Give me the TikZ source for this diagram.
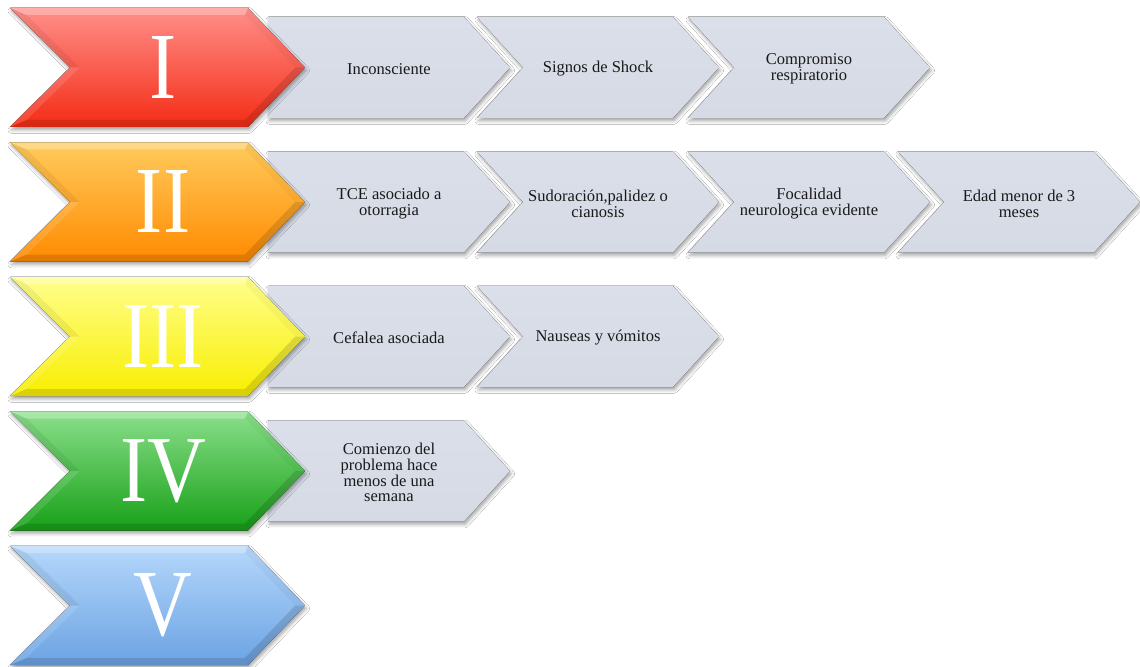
\documentclass[tikz,border=0pt]{standalone}
\usepackage{fontspec}
\setmainfont{Liberation Serif}
\newfontfamily\numfont[FakeStretch=0.86]{Liberation Serif}
\usetikzlibrary{shadows.blur}

\definecolor{boxgray}{HTML}{D5DAE5}
\definecolor{boxgrayhi}{HTML}{DADFE9}
\definecolor{redhi}{HTML}{FF8F8A}
\definecolor{redlo}{HTML}{F42C14}
\definecolor{orangehi}{HTML}{FFCB5C}
\definecolor{orangelo}{HTML}{FF8A00}
\definecolor{yellowhi}{HTML}{FFFF8C}
\definecolor{yellowlo}{HTML}{F8EE00}
\definecolor{greenhi}{HTML}{8ADF8A}
\definecolor{greenlo}{HTML}{17A017}
\definecolor{bluehi}{HTML}{B5D7FB}
\definecolor{bluelo}{HTML}{6BA3E3}

\tikzset{
  x=0.75pt, y=-0.75pt,
  softshadow/.style={blur shadow={shadow xshift=1pt, shadow yshift=-2.2pt,
      shadow blur radius=2.5pt, shadow opacity=35}},
  numeral/.style={text=white, inner sep=0pt,
      font=\numfont\fontsize{71}{71}\selectfont},
  itemtext/.style={align=center, inner sep=0pt, text=black!90,
      font=\fontsize{12.4}{11.9}\selectfont},
  lightface/.style={fill=white, fill opacity=#1},
  darkface/.style={fill=black, fill opacity=#1},
}

% coloured level chevron: #1 name, #2 top edge, #3 light tone, #4 deep tone, #5 numeral
\newcommand\levelchevron[5]{%
  \begin{scope}[shift={(10,#2)}]
    \fill[softshadow, top color=#3, bottom color=#4]
      (0,0) -- (238,0) -- (295,59.5) -- (238,119) -- (0,119) -- (60,59.5) -- cycle;
    % bevelled rim
    \fill[lightface=.28] (0,0) -- (238,0) -- (235,7) -- (16.5,7) -- cycle;
    \fill[darkface=.03] (238,0) -- (295,59.5) -- (285.3,59.5) -- (235,7) -- cycle;
    \fill[darkface=.13] (295,59.5) -- (238,119) -- (235,112) -- (285.3,59.5) -- cycle;
    \fill[darkface=.12] (238,119) -- (0,119) -- (16.5,112) -- (235,112) -- cycle;
    \fill[lightface=.12] (0,119) -- (60,59.5) -- (69.7,59.5) -- (16.5,112) -- cycle;
    \fill[darkface=.06] (60,59.5) -- (0,0) -- (16.5,7) -- (69.7,59.5) -- cycle;
    \node[numeral] (#1) at (153,59.5) {#5};
  \end{scope}}

% first grey item of a row (flat left side): #1 name, #2 left, #3 top, #4 text
\newcommand\grayfirst[4]{%
  \fill[softshadow, top color=boxgrayhi, bottom color=boxgray]
    (#2,#3) -- ++(196,0) -- ++(46,50.5) -- ++(-46,50.5) -- ++(-196,0) -- cycle;
  \node[itemtext] (#1) at ({#2+121},{#3+52}) {#4};}

% following grey item of a row (notched left side)
\newcommand\graynext[4]{%
  \fill[softshadow, top color=boxgrayhi, bottom color=boxgray]
    (#2,#3) -- ++(196,0) -- ++(46,50.5) -- ++(-46,50.5) -- ++(-196,0)
    -- ++(46,-50.5) -- cycle;
  \node[itemtext] (#1) at ({#2+121},{#3+52}) {#4};}

\begin{document}
\begin{tikzpicture}
  \useasboundingbox[fill=white] (0,0) rectangle (1140,667);

  % level I
  \grayfirst{a1}{268}{17}{Inconsciente}
  \graynext{a2}{477}{17}{Signos de Shock}
  \graynext{a3}{688}{17}{Compromiso\\respiratorio}
  \levelchevron{l1}{8}{redhi}{redlo}{I}

  % level II
  \grayfirst{b1}{268}{151.5}{TCE asociado a\\otorragia}
  \graynext{b2}{477}{151.5}{Sudoración,palidez o\\cianosis}
  \graynext{b3}{688}{151.5}{Focalidad\\neurologica evidente}
  \graynext{b4}{898}{151.5}{Edad menor de 3\\meses}
  \levelchevron{l2}{142.5}{orangehi}{orangelo}{II}

  % level III
  \grayfirst{c1}{268}{286}{Cefalea asociada}
  \graynext{c2}{477}{286}{Nauseas y vómitos}
  \levelchevron{l3}{277}{yellowhi}{yellowlo}{III}

  % level IV
  \grayfirst{d1}{268}{420.5}{Comienzo del\\problema hace\\menos de una\\semana}
  \levelchevron{l4}{411.5}{greenhi}{greenlo}{IV}

  % level V
  \levelchevron{l5}{546}{bluehi}{bluelo}{V}
\end{tikzpicture}
\end{document}
